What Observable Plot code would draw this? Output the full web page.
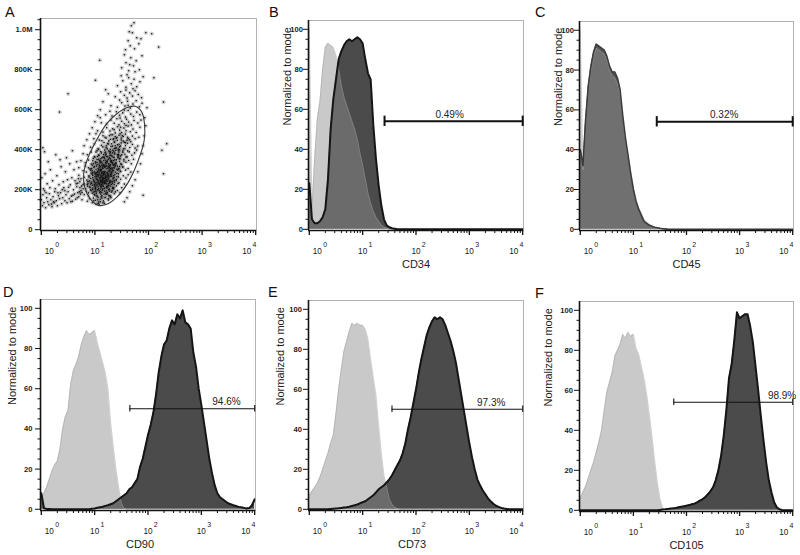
<!DOCTYPE html>
<html><head><meta charset="utf-8">
<script src="https://cdn.jsdelivr.net/npm/d3@7"></script>
<script src="https://cdn.jsdelivr.net/npm/@observablehq/plot@0.6"></script>
<style>
html,body{margin:0;padding:0;background:#fff;}
#fig{position:relative;width:800px;height:555px;overflow:hidden;font-family:"Liberation Sans",Arial,sans-serif;}
.panel{position:absolute;}
.letter{position:absolute;font-size:14.5px;line-height:1;color:#111;font-family:"Liberation Sans",Arial,sans-serif;}
</style></head><body><div id="fig"></div>
<script>
// ---------- data ----------
const binLog = [0,0.05,0.1,0.15,0.2,0.25,0.3,0.35,0.4,0.45,0.5,0.55,0.6,0.65,0.7,0.75,0.8,0.85,0.9,0.95,1,1.05,1.1,1.15,1.2,1.25,1.3,1.35,1.4,1.45,1.5,1.55,1.6,1.65,1.7,1.75,1.8,1.85,1.9,1.95,2,2.05,2.1,2.15,2.2,2.25,2.3,2.35,2.4,2.45,2.5,2.55,2.6,2.65,2.7,2.75,2.8,2.85,2.9,2.95,3,3.05,3.1,3.15,3.2,3.25,3.3,3.35,3.4,3.45,3.5,3.55,3.6,3.65,3.7,3.75,3.8,3.85,3.9,3.95,4];

const cd34Control = [100,10,35,55,64,80,91,93,92,91,87,80,72,66,62,58,54,50,45,38,32,25,18,13,9,6,4,2,1,0.5,0];
const cd34Sample  = [23,5,3,3,4,6,10,25,50,65,75,85,89,92,94,95,94,95,96,95,93,85,78,75,52,35,22,12,5,2,1,0.5,0.3,0];
const cd45Control = [100,30,52,70,80,87,91,90,89,88,85,80,77,76,73,67,55,45,36,28,21,15,11,8,5,3.5,2.5,1.5,1,0.7,0.4,0.2,0];
const cd45Sample  = [40,32,55,72,82,89,93,92,91,90,87,82,79,79,76,70,57,46,37,28,20,14,10,7,4,3,2,1.5,1,0.8,0.5,0.3,0.2,0];
const cd90Control = [5,8,11,15,19,22,24,30,40,46,49,62,69,72,76,82,86,89,87,88,89,83,78,73,68,60,43,31,20,11,3,0.5,0];
const cd90Sample  = [8,0.5,0.2,0.2,0,0,0,0,0,0, 0,0,0,0,0,0,0,0,0,0.3, 0.4,0.8,1,1.3,1.7,2,2.5,3,4,5,
                     6,7,8,10,11,13,15,21,25,31, 37,42,48,57,68,76,82,84,90,94, 92,97,95,99,93,92,90,78,71,60,
                     52,43,34,25,18,12,8,6,5,4, 3,2.5,2,1.6,1.2,1,0.7,0.4,0.6,2, 5];
const cd73Control = [7,9,11,13,16,20,24,28,33,37,48,60,70,79,84,89,93,92,93,92,92,90,85,75,66,57,42,28,17,11,5,2.5,1,0.4,0];
const cd73Sample  = [0,0,0,0,0,0,0,0,0.2,0.3, 0.4,0.5,0.7,0.9,1,1.3,1.7,2,2.4,3, 3.5,4,5,6,7,8.5,10,11,12,13.5,
                     15,17,19.5,22,24.5,28,33,40,46,53, 60,68,75,81,87,91,94,96,95,96, 95,92,88,84,79,73,65,57,49,41,
                     33,26,20,15,12,9.5,7.5,5.5,4,2.8, 1.8,1.2,0.7,0.4,0.2,0];
const cd105Control = [6,9,12,16,20,24,29,34,40,50,59,64,69,77,80,83,88,86,89,87,88,81,78,72,66,58,48,37,25,14,6,1,0.3,0];
const cd105Sample  = [0,0,0,0,0,0,0,0,0,0, 0,0,0,0,0,0,0,0,0,0, 0,0,0,0,0,0,0,0,0,0,
                      0.2,0.4,0.5,0.7,0.9,1,1.2,1.5,1.8,2, 2.3,2.6,3,3.3,4,4.8,5.5,6.5,8,9.5,
                      11.5,15,20,27,37,50,66,73,85,99, 96,97,98,98,92,84,72,60,47,35, 24,15,9,4,1.5,0.5,0.2,0];

const markers = ["CD34","CD45","CD90","CD73","CD105"];
const gatePercents = ["0.49%","0.32%","94.6%","97.3%","98.9%"];
const gateStartLog = [1.41,1.44,1.66,1.55,1.76];
const gateEndLog = [4,4,4,4,4];
const gateLevel = [54,54,50,50,54];
const gateLabelLog = [2.63,2.71,3.47,3.41,3.80];

const xTickValues = [1,10,100,1000,10000];
const xTickExponents = ["0","1","2","3","4"];
const histTickValues = [0,20,40,60,80,100];
const scatterTickValues = [0,200,400,600,800,1000];
const scatterTickLabels = ["0","200K","400K","600K","800K","1.0M"];
const yLabelText = "Normalized to mode";

// panel A: [log10 x, y in thousands]
const scatterPoints = [
[0.95,135],[1.02,128],[1.10,140],[1.18,132],[1.05,150],[0.90,155],[1.25,148],[1.13,158],[0.98,145],[1.30,160],[1.08,125],[0.86,142],
[0.80,175],[0.88,168],[0.95,182],[1.00,190],[1.04,172],[1.09,185],[1.12,165],[1.17,178],[1.21,195],[1.26,170],[1.31,188],[1.36,180],[1.42,196],[0.92,198],[0.84,192],[1.06,162],[1.14,198],[1.23,184],[0.99,176],[1.29,166],[1.47,185],[0.76,186],[1.01,200],[1.19,162],
[0.72,210],[0.78,225],[0.83,205],[0.87,232],[0.90,215],[0.93,238],[0.96,208],[0.99,226],[1.02,218],[1.04,236],[1.07,204],[1.09,228],[1.11,214],[1.13,240],[1.15,222],[1.18,207],[1.20,233],[1.22,216],[1.25,229],[1.27,203],[1.30,238],[1.33,212],[1.36,226],[1.40,219],[1.45,235],[1.50,210],[0.95,222],[1.01,212],[1.06,230],[1.16,236],[1.24,210],[1.12,224],[0.86,218],[1.35,205],[1.55,228],[0.68,232],
[0.74,255],[0.80,262],[0.85,248],[0.89,270],[0.92,256],[0.95,278],[0.98,244],[1.00,265],[1.03,252],[1.05,274],[1.08,260],[1.10,246],[1.12,268],[1.14,255],[1.16,279],[1.18,242],[1.20,263],[1.22,250],[1.24,272],[1.26,258],[1.28,245],[1.31,267],[1.34,254],[1.37,276],[1.40,249],[1.44,264],[1.48,252],[1.53,270],[1.58,258],[1.10,273],[1.19,256],[1.06,241],[1.29,277],[0.96,260],[1.15,247],[1.23,266],[1.33,241],[0.87,241],[1.62,275],[0.70,272],
[0.78,295],[0.84,288],[0.88,310],[0.92,298],[0.96,284],[0.99,316],[1.02,302],[1.05,290],[1.08,312],[1.10,297],[1.13,283],[1.15,306],[1.17,318],[1.19,292],[1.21,304],[1.23,286],[1.26,314],[1.28,299],[1.30,287],[1.32,309],[1.35,295],[1.38,318],[1.41,282],[1.44,303],[1.48,291],[1.52,312],[1.57,298],[1.62,306],[1.67,288],[1.12,300],[1.20,315],[1.25,293],[1.07,299],[1.16,290],[1.29,306],[1.03,285],[1.36,308],[0.94,306],[1.46,316],[0.82,318],
[0.82,335],[0.88,348],[0.93,328],[0.97,356],[1.01,340],[1.04,325],[1.07,352],[1.10,336],[1.13,322],[1.16,345],[1.18,358],[1.21,331],[1.23,347],[1.26,324],[1.29,354],[1.31,338],[1.34,326],[1.37,350],[1.40,333],[1.43,359],[1.46,341],[1.50,327],[1.54,352],[1.58,337],[1.63,346],[1.68,330],[1.22,340],[1.14,332],[1.30,345],[1.09,346],[1.38,322],[1.47,355],[1.72,352],
[0.86,375],[0.93,388],[0.99,366],[1.04,395],[1.08,372],[1.12,384],[1.15,363],[1.18,398],[1.21,378],[1.24,365],[1.27,390],[1.30,372],[1.33,384],[1.36,362],[1.39,396],[1.42,376],[1.45,388],[1.48,368],[1.52,393],[1.56,377],[1.60,364],[1.64,389],[1.69,372],[1.74,384],[1.28,380],[1.35,392],[1.20,388],[1.44,370],[1.78,398],
[0.92,412],[0.99,430],[1.06,405],[1.12,422],[1.17,436],[1.21,410],[1.25,428],[1.29,402],[1.33,418],[1.36,438],[1.39,407],[1.42,425],[1.46,414],[1.49,434],[1.53,404],[1.57,420],[1.61,432],[1.65,411],[1.70,426],[1.75,408],[1.80,418],[1.31,430],[1.44,403],[1.55,437],[1.38,420],
[0.98,455],[1.08,448],[1.15,470],[1.21,458],[1.26,444],[1.30,475],[1.34,452],[1.38,466],[1.42,446],[1.45,472],[1.49,458],[1.53,443],[1.57,478],[1.61,462],[1.65,450],[1.70,468],[1.75,455],[1.82,462],[1.40,458],[1.51,470],[1.60,447],
[1.05,495],[1.15,488],[1.22,510],[1.28,493],[1.33,505],[1.38,484],[1.42,515],[1.46,498],[1.50,486],[1.54,508],[1.58,495],[1.62,518],[1.66,490],[1.71,503],[1.77,486],[1.84,512],[1.48,512],[1.36,500],
[1.12,535],[1.22,528],[1.30,548],[1.36,532],[1.41,555],[1.45,525],[1.50,542],[1.55,530],[1.59,552],[1.63,538],[1.68,524],[1.73,546],[1.80,533],[1.47,558],[1.58,521],[1.86,548],
[1.20,575],[1.32,568],[1.40,590],[1.46,572],[1.52,584],[1.57,563],[1.62,596],[1.67,578],[1.72,566],[1.78,588],[1.84,575],[1.55,598],[1.28,592],
[1.30,620],[1.42,612],[1.50,635],[1.56,618],[1.61,642],[1.66,608],[1.71,628],[1.77,645],[1.83,615],[1.62,622],[1.46,648],[1.88,632],
[1.38,665],[1.48,690],[1.55,672],[1.60,658],[1.65,684],[1.70,668],[1.75,695],[1.81,676],[1.58,698],[1.87,660],[1.25,680],
[1.42,720],[1.52,745],[1.58,712],[1.63,760],[1.68,730],[1.73,752],[1.78,715],[1.84,740],[1.60,775],[1.71,705],[1.90,765],[1.49,770],
[1.50,810],[1.58,835],[1.63,795],[1.67,860],[1.72,820],[1.77,845],[1.83,800],[1.88,870],[1.65,825],[1.55,875],[1.75,790],
[1.57,900],[1.62,945],[1.66,920],[1.70,985],[1.74,905],[1.78,960],[1.82,930],[1.68,1020],[1.73,1035],[1.64,990],[1.86,955],[1.95,985],
[0.00,150],[0.02,120],[0.03,175],[0.05,135],[0.06,195],[0.08,110],[0.10,160],[0.12,140],[0.14,125],[0.15,180],[0.18,150],[0.20,115],[0.22,165],[0.24,135],[0.26,205],[0.28,145],[0.30,120],[0.32,170],[0.34,155],[0.36,185],[0.38,130],[0.40,160],[0.42,210],[0.44,145],[0.46,175],[0.48,135],[0.50,190],[0.52,155],[0.54,225],[0.56,168],[0.58,142],[0.60,200],[0.62,178],[0.64,152],[0.66,215],[0.68,185],[0.70,165],[0.72,240],[0.74,195],[0.76,150],[0.78,205],[0.80,230],
[0.04,205],[0.09,185],[0.16,210],[0.25,190],[0.33,225],[0.41,240],[0.49,250],[0.57,260],[0.63,245],[0.69,255],[0.11,230],[0.21,245],[0.01,260],[0.07,280],[0.17,300],[0.29,270],[0.37,315],[0.45,290],[0.53,330],[0.61,300],[0.35,350],[0.13,340],[0.03,410],[0.06,390],[0.27,375],[0.47,360],[0.58,395],[0.66,340],[0.44,195],[0.59,172],[0.71,190],[0.65,230],[0.51,212],[0.39,200],[0.23,140],[0.31,185],[0.19,128],[0.55,140],[0.67,160],[0.73,178],[0.75,218],
[0.70,310],[0.74,345],[0.78,380],[0.80,420],[0.85,450],[0.90,480],[0.95,510],[1.00,540],[1.05,570],[1.10,600],[1.15,640],[1.20,700],[1.90,420],[1.92,470],[1.95,520],[1.88,380],[1.85,330],[1.80,290],[1.75,250],[1.70,220],[1.65,190],[1.60,160],[1.55,140],[1.93,560],[1.97,610],[1.10,560],[1.02,480],
[0.50,680],[0.34,588],[2.28,638],[2.34,430],[2.25,397],[2.28,280],[2.19,913],[2.06,980],[1.90,172],[1.09,847],[1.01,747],[2.10,760],
[0.88,184],[0.93,196],[0.97,188],[1.01,206],[1.03,183],[1.06,214],[1.08,195],[1.11,203],[1.13,187],[1.16,216],[1.18,192],[1.21,209],[1.23,186],[1.26,201],[1.29,218],[1.32,194],[1.35,211],[1.38,189],[0.91,211],[0.99,219],[1.05,199],[1.10,190],[1.15,204],[1.20,181],[1.27,193],[1.33,205],[0.96,201],[1.12,215],[1.24,219],[1.02,192],
[0.86,226],[0.90,244],[0.94,232],[0.97,251],[1.00,237],[1.02,258],[1.04,224],[1.06,246],[1.08,233],[1.10,254],[1.11,239],[1.13,227],[1.15,249],[1.17,236],[1.19,257],[1.21,229],[1.23,242],[1.25,253],[1.27,234],[1.29,247],[1.31,226],[1.34,258],[1.37,238],[1.40,250],[1.43,231],[0.92,228],[0.99,241],[1.05,252],[1.12,244],[1.18,231],[1.22,248],[1.28,238],[1.33,232],[1.09,222],[1.16,259],[1.26,221],[1.36,245],[1.01,230],[1.14,235],[1.20,244],
[0.89,264],[0.93,283],[0.96,271],[0.99,292],[1.01,278],[1.03,266],[1.05,288],[1.07,275],[1.09,296],[1.11,263],[1.13,281],[1.15,270],[1.17,291],[1.19,277],[1.21,262],[1.23,285],[1.25,273],[1.27,294],[1.29,268],[1.31,282],[1.33,297],[1.35,271],[1.38,287],[1.41,265],[1.44,279],[1.47,293],[0.95,295],[1.02,274],[1.08,284],[1.14,262],[1.18,284],[1.24,280],[1.30,275],[1.36,262],[1.12,289],[1.20,270],[1.26,263],[1.06,268],[1.16,276],[1.32,289],[1.42,298],[1.00,284],
[0.91,304],[0.95,322],[0.98,311],[1.01,333],[1.03,318],[1.06,305],[1.08,328],[1.10,315],[1.12,338],[1.14,309],[1.16,326],[1.18,313],[1.20,336],[1.22,320],[1.24,307],[1.26,330],[1.28,317],[1.30,339],[1.32,303],[1.34,323],[1.36,311],[1.39,334],[1.42,318],[1.45,306],[1.48,329],[1.52,315],[1.04,336],[1.11,301],[1.19,322],[1.27,310],[1.33,334],[1.41,302],[0.97,330],[1.15,318],[1.23,339],[1.37,328],[1.09,320],[1.29,324],
[0.96,345],[1.00,362],[1.04,351],[1.07,373],[1.10,342],[1.13,360],[1.16,376],[1.19,348],[1.22,366],[1.25,352],[1.28,371],[1.31,344],[1.34,362],[1.37,378],[1.40,349],[1.43,367],[1.46,355],[1.50,374],[1.54,343],[1.58,363],[1.11,355],[1.20,373],[1.27,359],[1.35,346],[1.44,377],[1.17,362],[1.32,368],[1.05,366],
[1.02,388],[1.07,402],[1.11,391],[1.15,414],[1.19,385],[1.23,404],[1.26,393],[1.30,416],[1.33,397],[1.37,383],[1.40,410],[1.44,395],[1.48,418],[1.52,387],[1.56,405],[1.61,394],[1.29,388],[1.36,406],[1.21,419],[1.46,400],
[1.13,445],[1.19,462],[1.24,431],[1.29,452],[1.33,475],[1.37,438],[1.41,460],[1.45,427],[1.49,448],[1.53,466],[1.57,435],[1.62,455],[1.67,440],[1.35,455],[1.47,480],[1.27,470],
[0.97,158],[1.01,147],[1.04,165],[1.07,138],[1.10,152],[1.13,170],[1.16,144],[1.19,160],[1.22,176],[1.25,155],[1.28,171],[1.00,172],[1.11,178],[1.06,131],[1.15,134]
];
// elliptical gate outline in panel A: [log10 x, y in thousands]
const gateEllipse = [[1.75,617],[1.59,610],[1.41,580],[1.22,530],[1.03,447],[0.875,363],[0.79,280],[0.81,213],[0.91,155],[1.06,122],[1.22,127],[1.41,163],[1.625,238],[1.81,347],[1.92,447],[1.925,530],[1.875,588]];

// ---------- helpers ----------
const xDomain = [Math.pow(10,-0.015), Math.pow(10,4.015)];
const FONT = "Liberation Sans, Arial, sans-serif";
function series(vals){ return binLog.map((l,i)=>({x: Math.pow(10,l), v: i < vals.length ? vals[i] : 0})); }
const minorX = []; for (let k=0;k<4;k++) for (let m=2;m<=9;m++) minorX.push(m*Math.pow(10,k));

function xAxisMarks(){
  const first=[xTickValues[0]], mid=xTickValues.slice(1,-1), last=[xTickValues[xTickValues.length-1]];
  const expOf = d => xTickExponents[xTickValues.indexOf(d)];
  const base = {x:d=>d, frameAnchor:"bottom", fontSize:8.2, fill:"#1a1a1a"};
  const sup = {x:d=>d, text:expOf, frameAnchor:"bottom", fontSize:7, fill:"#1a1a1a"};
  return [
    Plot.axisX(minorX,{tickSize:3, tickFormat:()=>"", label:null, stroke:"#111"}),
    Plot.axisX(xTickValues,{tickSize:5, tickFormat:()=>"", label:null, stroke:"#111", strokeWidth:1.3}),
    Plot.text(first,{...base, text:()=>"10", dy:23.5, dx:8}),
    Plot.text(mid,{...base, text:()=>"10", dy:23.5, dx:0}),
    Plot.text(last,{...base, text:()=>"10", dy:23.5, dx:-9}),
    Plot.text(first,{...sup, dy:16, dx:15.8}),
    Plot.text(mid,{...sup, dy:16, dx:7.8}),
    Plot.text(last,{...sup, dy:16, dx:-1.2})
  ];
}

function histPanel(i, control, sample, b){
  const ctl = series(control), smp = series(sample);
  const lvl = gateLevel[i];
  const gx1 = Math.pow(10,gateStartLog[i]), gx2 = Math.pow(10,gateEndLog[i]);
  const yMin = -0.6;
  const minorY = []; for (let v=5; v<=100; v+=5) if (v%20) minorY.push(v);
  return Plot.plot({
    width:b.w, height:b.h, marginLeft:b.ml, marginRight:b.mr, marginTop:b.mt, marginBottom:b.mb,
    x:{type:"log", domain:xDomain},
    y:{domain:[yMin,104.4]},
    style:{fontFamily:FONT, background:"transparent", overflow:"visible"},
    marks:[
      Plot.areaY(smp,{x:"x", y:"v", fill:b.darkFill, curve:"linear"}),
      Plot.areaY(ctl,{x:"x", y:"v", fill:"#8e8e8e", fillOpacity:0.48, curve:"linear"}),
      Plot.lineY(ctl,{x:"x", y:"v", stroke:"#a9a9a9", strokeWidth:0.8, strokeOpacity:0.7}),
      Plot.lineY(smp,{x:"x", y:"v", stroke:b.darkStroke, strokeWidth:b.darkWidth}),
      Plot.frame({stroke:"#a0a0a0", strokeWidth:0.8}),
      Plot.ruleX([xDomain[0]],{stroke:"#111", strokeWidth:1.6}),
      Plot.ruleY([yMin],{stroke:"#111", strokeWidth:1.6}),
      Plot.axisY(minorY,{tickSize:2.5, tickFormat:()=>"", label:null, stroke:"#111"}),
      Plot.axisY(histTickValues,{tickSize:5, tickPadding:b.tp, fontSize:7.6, fontWeight:"bold", label:null, stroke:"#111", fill:"#222"}),
      ...xAxisMarks(),
      Plot.text([yLabelText],{text:d=>d, frameAnchor:"left", rotate:-90, dx:b.yl, fontSize:11, fill:"#222"}),
      Plot.text([markers[i]],{text:d=>d, frameAnchor:"bottom", dy:37, dx:b.xl, fontSize:11, fill:"#222"}),
      Plot.ruleY([lvl],{x1:gx1, x2:gx2, stroke:"#111", strokeWidth:b.gw}),
      Plot.ruleX([gx1,gx2],{x:d=>d, y1:lvl-b.cap, y2:lvl+b.cap, stroke:"#111", strokeWidth:b.gw}),
      Plot.text([gatePercents[i]],{text:d=>d, x:Math.pow(10,gateLabelLog[i]), y:lvl, dy:-7, fontSize:10, fill:"#222"})
    ]
  });
}

function scatterPanel(b){
  const minorY = []; for (let v=50; v<=1050; v+=50) if (v%200) minorY.push(v);
  const px = d=>Math.pow(10,d[0]), py = d=>d[1];
  return Plot.plot({
    width:b.w, height:b.h, marginLeft:b.ml, marginRight:b.mr, marginTop:b.mt, marginBottom:b.mb,
    x:{type:"log", domain:xDomain},
    y:{domain:[-4,1056]},
    style:{fontFamily:FONT, background:"transparent", overflow:"visible"},
    marks:[
      Plot.dot(scatterPoints,{x:px, y:py, r:2.3, fill:"#000", fillOpacity:0.16, stroke:null}),
      Plot.dot(scatterPoints,{x:px, y:py, r:0.8, fill:"#111", stroke:null}),
      Plot.line(gateEllipse,{x:px, y:py, curve:"catmull-rom-closed", stroke:"#3a3a3a", strokeWidth:1.1}),
      Plot.frame({stroke:"#a0a0a0", strokeWidth:0.8}),
      Plot.ruleX([xDomain[0]],{stroke:"#111", strokeWidth:1.6}),
      Plot.ruleY([-4],{stroke:"#111", strokeWidth:1.6}),
      Plot.axisY(minorY,{tickSize:2.5, tickFormat:()=>"", label:null, stroke:"#111"}),
      Plot.axisY(scatterTickValues,{tickSize:5, tickPadding:3, fontSize:7.6, fontWeight:"bold", label:null, stroke:"#111", fill:"#222",
        tickFormat:d=>scatterTickLabels[scatterTickValues.indexOf(d)]}),
      ...xAxisMarks()
    ]
  });
}

// ---------- layout ----------
const fig = document.getElementById("fig");
function place(node, left, top){
  const d = document.createElement("div");
  d.className = "panel"; d.style.left = left+"px"; d.style.top = top+"px";
  d.appendChild(node); fig.appendChild(d);
}
function letter(t, left, top){
  const d = document.createElement("div");
  d.className = "letter"; d.textContent = t; d.style.left = left+"px"; d.style.top = top+"px";
  fig.appendChild(d);
}
const common = {darkFill:"#4b4b4b", darkStroke:"#151515", darkWidth:2, gw:2, cap:2.6, tp:0.5};
const thin = {gw:1.1, cap:1.6};

place(scatterPanel({w:265,h:280,ml:40,mr:9,mt:18,mb:50}), 0, 0);
place(histPanel(0, cd34Control, cd34Sample, {...common, w:265,h:280,ml:43,mr:7,mt:20,mb:50, yl:-21, xl:0}), 265, 0);
place(histPanel(1, cd45Control, cd45Sample, {...common, darkFill:"#555", darkStroke:"#3c3c3c", darkWidth:1.6, w:270,h:280,ml:49,mr:7,mt:21,mb:50, yl:-21, xl:0}), 530, 0);
place(histPanel(2, cd90Control, cd90Sample, {...common, ...thin, tp:3, w:265,h:275,ml:40,mr:10,mt:19,mb:45, yl:-28, xl:-8}), 0, 280);
place(histPanel(3, cd73Control, cd73Sample, {...common, ...thin, tp:1.5, w:265,h:275,ml:43,mr:7,mt:20,mb:45, yl:-28, xl:-4}), 265, 280);
place(histPanel(4, cd105Control, cd105Sample, {...common, ...thin, tp:1.5, w:270,h:275,ml:49,mr:7,mt:21,mb:44, yl:-31, xl:0}), 530, 280);

letter("A",5,5); letter("B",269,5); letter("C",535,5);
letter("D",3,285); letter("E",268,285); letter("F",535,286);
</script></body></html>
